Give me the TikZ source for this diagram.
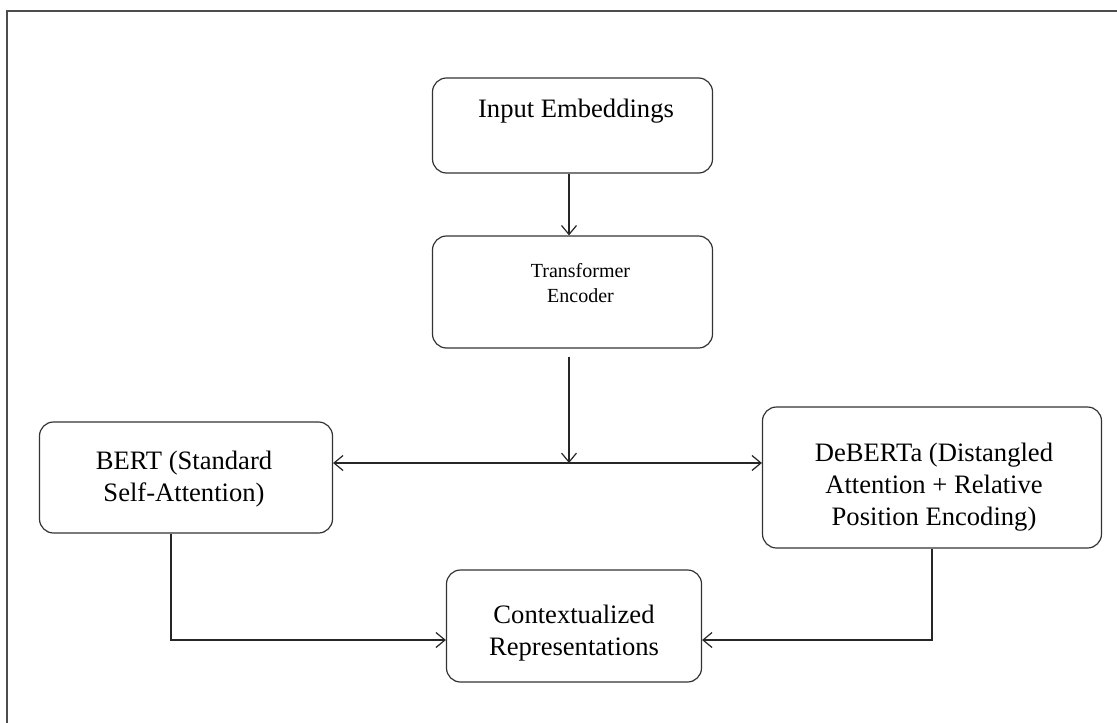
\documentclass[tikz,border=0pt]{standalone}
\usepackage{fontspec}
\setmainfont{Liberation Serif}
\usetikzlibrary{arrows.meta,positioning,calc}
\begin{document}
\begin{tikzpicture}[x=1pt,y=-1pt,line width=1.2pt,
  >={Straight Barb[length=9pt,width=15pt]},
  box/.style={draw=black!80,rounded corners=14pt,inner sep=0pt},
  link/.style={draw=black!85},
  big/.style={font=\fontsize{26.6}{32}\selectfont,align=center,inner sep=0pt},
  small/.style={font=\fontsize{20}{25}\selectfont,align=center,inner sep=0pt}]
\useasboundingbox (0,0) rectangle (1117,723);
\clip (0,0) rectangle (1117,723);
% frame
\draw[black!70,line width=2pt] (7,11) rectangle (1140,760);
% boxes
\foreach \name/\x/\y/\w/\h in {inp/572.5/125.5/280/95,enc/572.5/292/280/112,bert/186/477.5/293/111,deb/932/477.5/339/141,ctx/574/626/255/112} {
  \node[box,minimum width=\w pt,minimum height=\h pt] (\name) at (\x,\y) {};
}
% labels
\node[big] (inptxt) at (576,111) {Input Embeddings};
\node[small] (enctxt) at (580.5,283) {Transformer\\Encoder};
\node[big] (berttxt) at (184,479) {BERT (Standard\\Self-Attention)};
\node[big] (debtxt) at (934,487.5) {DeBERTa (Distangled\\Attention + Relative\\Position Encoding)};
\node[big] (ctxtxt) at (574,633.5) {Contextualized\\Representations};
% connectors
\coordinate (split) at (569,463);
\draw[link,->] (inp.south -| split) -- (enc.north -| split);
\draw[link,->] ($(enc.south -| split)+(0,8)$) -- (split);
\draw[link,<->] (split -| bert.east) -- (split -| deb.west);
\draw[link,->] ($(bert.south)+(-15,0)$) |- ($(ctx.west)+(0,14)$);
\draw[link,->] (deb.south) |- ($(ctx.east)+(0,14)$);
\end{tikzpicture}
\end{document}
